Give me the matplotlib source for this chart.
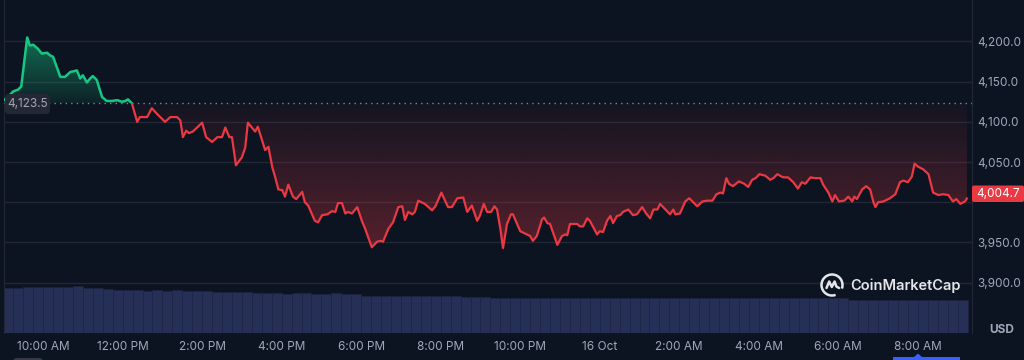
#!/usr/bin/env python3
"""24h price chart (dark CoinMarketCap style) with volume bars underneath.

Output: out.png, 1024x360 px.
"""
import numpy as np
import matplotlib
matplotlib.use("Agg")
import matplotlib.pyplot as plt
from matplotlib.patches import Rectangle, PathPatch, Arc, FancyBboxPatch, Polygon
from matplotlib.path import Path
from matplotlib.lines import Line2D
from matplotlib.transforms import Affine2D
from matplotlib.colors import to_rgb

plt.rcParams["font.family"] = ["Inter", "DejaVu Sans"]

# --- data: minutes after 09:00 (15 Oct) and price in USD ---
minutes = [
    1, 7, 15, 22, 27, 36, 40, 45, 52, 58,
    66, 70, 75, 86, 93, 101, 111, 116, 120, 126,
    131, 135, 141, 149, 156, 164, 172, 179, 184, 188,
    194, 202, 206, 217, 224, 233, 244, 252, 262, 267,
    271, 276, 280, 286, 300, 306, 315, 323, 330, 335,
    341, 345, 351, 360, 365, 369, 380, 384, 395, 400,
    406, 410, 415, 421, 425, 430, 437, 442, 451, 455,
    460, 470, 475, 481, 489, 496, 501, 505, 511, 516,
    520, 526, 534, 541, 546, 556, 564, 569, 573, 581,
    588, 596, 602, 606, 611, 617, 621, 626, 636, 647,
    652, 661, 671, 677, 685, 694, 700, 707, 715, 719,
    725, 730, 736, 741, 745, 750, 754, 760, 766, 769,
    780, 790, 795, 799, 805, 813, 816, 821, 825, 836,
    843, 848, 851, 855, 866, 870, 875, 881, 885, 896,
    900, 905, 911, 916, 920, 926, 931, 935, 943, 950,
    956, 964, 970, 976, 981, 987, 991, 999, 1006, 1011,
    1014, 1021, 1029, 1035, 1041, 1047, 1055, 1062, 1070, 1076,
    1082, 1086, 1091, 1095, 1101, 1110, 1118, 1124, 1130, 1135,
    1141, 1150, 1157, 1162, 1168, 1172, 1177, 1184, 1192, 1199,
    1205, 1210, 1218, 1225, 1233, 1237, 1245, 1251, 1255, 1261,
    1269, 1275, 1281, 1284, 1288, 1296, 1302, 1308, 1313, 1316,
    1320, 1328, 1338, 1346, 1353, 1358, 1365, 1371, 1375, 1381,
    1388, 1396, 1403, 1411, 1418, 1426, 1433, 1438, 1444, 1451,
    1454,
]
prices = [
    4127, 4131, 4138, 4140, 4144, 4205, 4195, 4196, 4191, 4185,
    4186, 4183, 4181, 4156, 4156, 4162, 4164, 4154, 4158, 4149,
    4154, 4157, 4152, 4131, 4126, 4126, 4127, 4125, 4126, 4128,
    4123, 4100, 4106, 4106, 4117, 4109, 4100, 4106, 4106, 4102,
    4081, 4089, 4086, 4088, 4099, 4081, 4075, 4081, 4081, 4093,
    4081, 4081, 4046, 4056, 4068, 4099, 4088, 4094, 4065, 4069,
    4043, 4032, 4016, 4015, 4007, 4022, 4007, 4004, 4013, 4000,
    3996, 3977, 3975, 3984, 3985, 3989, 3988, 3999, 3999, 3986,
    3988, 3986, 3994, 3977, 3967, 3944, 3951, 3952, 3951, 3967,
    3975, 3994, 3995, 3978, 3988, 3985, 3988, 4002, 3998, 3990,
    3995, 4012, 3994, 3994, 4005, 4006, 3988, 3996, 3977, 3983,
    3998, 3988, 3988, 3995, 3991, 3967, 3943, 3973, 3985, 3985,
    3964, 3960, 3958, 3952, 3958, 3979, 3981, 3974, 3973, 3947,
    3958, 3960, 3959, 3973, 3973, 3970, 3970, 3980, 3977, 3960,
    3964, 3963, 3977, 3983, 3974, 3983, 3984, 3988, 3991, 3984,
    3985, 3994, 3986, 3980, 3991, 3991, 3998, 3991, 3985, 3991,
    3985, 3986, 4001, 4005, 4000, 3995, 4001, 4002, 4002, 4010,
    4012, 4011, 4030, 4023, 4020, 4026, 4023, 4019, 4028, 4030,
    4035, 4033, 4028, 4030, 4035, 4033, 4031, 4031, 4025, 4017,
    4025, 4023, 4031, 4030, 4030, 4022, 4012, 4001, 4009, 4001,
    4002, 4007, 4001, 4007, 4004, 4016, 4020, 4016, 4000, 3994,
    4000, 4001, 4005, 4010, 4025, 4027, 4025, 4032, 4048, 4044,
    4041, 4035, 4012, 4009, 4010, 4009, 4001, 4004, 3998, 4001,
    4004.7,
]
open_price = 4123.5

# 15-minute volume bars, USD billions
volume = [
    45, 45, 46, 46, 46, 46, 46.5, 47, 45, 45,
    44, 43, 43, 43, 42.5, 43, 42.5, 43, 42.5, 42.5,
    42.5, 41.3, 41.5, 40.7, 40.7, 40.5, 39.7, 39.7, 39.5, 39.7,
    39.7, 39.5, 39.5, 39.7, 39.5, 39.2, 37.5, 37, 37, 37,
    37, 36.8, 37, 37, 36.8, 36.8, 36.5, 35.7, 35.7, 35.5,
    35.5, 35.2, 35.3, 35.2, 35, 35.2, 35.4, 35.2, 35.3, 35.2,
    35.1, 35.2, 35.4, 35.2, 35.2, 35.3, 35.1, 35.2, 35.2, 35.4,
    35.2, 35.1, 35.2, 35.3, 35.2, 35.1, 35.2, 35.2, 34.9, 35.0,
    35.1, 34.9, 34.7, 34.7, 34.6, 33.5, 33.2, 33.0, 33.0, 33.1,
    33.0, 33.0, 33.1, 33.0, 33.0, 32.8, 33.5,
]
vol_step = 15  # minutes per bar

tick_minutes = [60, 180, 300, 420, 540, 660, 780, 900, 1020, 1140, 1260, 1380]
tick_labels = ["10:00 AM", "12:00 PM", "2:00 PM", "4:00 PM", "6:00 PM", "8:00 PM",
               "10:00 PM", "16 Oct", "2:00 AM", "4:00 AM", "6:00 AM", "8:00 AM"]
price_ticks = [3900, 3950, 4000, 4050, 4100, 4150, 4200]

# --- style ---
BG = "#0d1421"
GRID = "#222735"
TEXT = "#a1a7bb"
GREEN = "#16c784"
RED = "#ea3943"
W, H = 1024, 360
XMIN, XMAX = 1.0, 1461.7
YMIN, YMAX = 3837.4, 4251.6


def gradient_fill(ax, t, p, base, above, color, y_lo, y_hi, a_lo, a_hi):
    where = p >= base if above else p <= base
    coll = ax.fill_between(t, p, base, where=where, interpolate=True,
                           facecolor="none", edgecolor="none")
    path = Path.make_compound_path(*coll.get_paths())
    clip = PathPatch(path, transform=ax.transData, facecolor="none", edgecolor="none")
    ax.add_patch(clip)
    img = np.zeros((256, 1, 4))
    img[..., :3] = to_rgb(color)
    img[:, 0, 3] = np.linspace(a_lo, a_hi, 256)
    im = ax.imshow(img, extent=[t[0], t[-1], y_lo, y_hi], origin="lower",
                   aspect="auto", zorder=1, interpolation="bilinear")
    im.set_clip_path(clip)


def main():
    t = np.array(minutes, dtype=float)
    p = np.array(prices, dtype=float)

    fig = plt.figure(figsize=(W / 100, H / 100), dpi=100, facecolor=BG)
    PX = Affine2D().scale(1 / W, 1 / H) + fig.transFigure   # pixels, origin bottom-left

    rect = [4 / W, 27 / H, 968 / W, 333 / H]

    # volume bars underneath
    axv = fig.add_axes(rect)
    starts = np.arange(len(volume)) * vol_step
    axv.bar(starts + vol_step / 2, volume, width=vol_step, color="#262f55",
            edgecolor="#1d2544", linewidth=0.5)
    axv.set_xlim(XMIN, XMAX)
    axv.set_ylim(0, 333)
    axv.axis("off")

    ax = fig.add_axes(rect)
    ax.set_facecolor("none")

    gradient_fill(ax, t, p, open_price, True, GREEN, open_price, p.max(), 0.08, 0.5)
    gradient_fill(ax, t, p, open_price, False, RED, p.min(), open_price, 0.33, 0.03)

    up, = ax.plot(t, p, color=GREEN, lw=1.8, zorder=4, solid_joinstyle="round")
    dn, = ax.plot(t, p, color=RED, lw=1.6, zorder=4, solid_joinstyle="round")
    up.set_clip_path(Rectangle((XMIN, open_price), XMAX - XMIN, YMAX - open_price,
                               transform=ax.transData))
    dn.set_clip_path(Rectangle((XMIN, YMIN), XMAX - XMIN, open_price - YMIN,
                               transform=ax.transData))

    ax.axhline(open_price, color="#9aa0ae", lw=1, ls=(0, (1, 3)), alpha=0.8, zorder=3)

    ax.set_xlim(XMIN, XMAX)
    ax.set_ylim(YMIN, YMAX)
    ax.set_xticks(tick_minutes)
    ax.set_xticklabels(tick_labels)
    ax.set_yticks(price_ticks)
    ax.set_yticklabels(["" if v == 4000 else f"{v:,.1f}" for v in price_ticks])
    ax.yaxis.tick_right()
    ax.yaxis.grid(True, color=GRID, lw=1)
    ax.set_axisbelow(True)
    ax.tick_params(axis="x", length=0, pad=6, labelcolor=TEXT, labelsize=8.5)
    ax.tick_params(axis="y", length=0, pad=3.5, labelcolor=TEXT, labelsize=8.5)
    for side in ("top", "bottom"):
        ax.spines[side].set_visible(False)
    for side in ("left", "right"):
        ax.spines[side].set_color(GRID)

    # open price tag on the left
    fig.add_artist(FancyBboxPatch((5, 246), 45, 20, boxstyle="round,pad=0,rounding_size=4",
                                  fc="#242834", ec="none", transform=PX))
    fig.text(27.5, 256, f"{open_price:,.1f}", transform=PX, ha="center", va="center",
             color=TEXT, fontsize=8.5)

    # last price tag on the right
    fig.add_artist(FancyBboxPatch((972, 158), 52, 16.5, boxstyle="round,pad=0,rounding_size=2",
                                  fc=RED, ec="none", transform=PX))
    fig.text(998, 166, f"{prices[-1]:,.1f}", transform=PX, ha="center", va="center",
             color="white", fontsize=8.5)

    fig.text(1002, 30, "USD", transform=PX, ha="center", va="center", color=TEXT,
             fontsize=8.5, fontweight="bold")

    # watermark
    logo = "#e4e6ea"
    fig.add_artist(Arc((832, 75), 21, 21, theta1=-20, theta2=290, lw=1.8,
                       color=logo, transform=PX))
    mx = np.array([-5.5, -2.8, -0.2, 2.6, 4.4, 7.0]) + 832
    my = np.array([-3.0, 3.5, -2.0, 3.5, -1.5, -3.0]) + 75
    fig.add_artist(Line2D(mx, my, lw=1.8, color=logo, transform=PX,
                          solid_joinstyle="round", solid_capstyle="round"))
    fig.text(850, 74, "CoinMarketCap", transform=PX, ha="left", va="center",
             color=logo, fontsize=10.5, fontweight="semibold")

    # bits of the bottom toolbar peeking in
    fig.add_artist(Rectangle((893, 0), 67, 3, fc="#3861fb", ec="none", transform=PX))
    fig.add_artist(Polygon([(914, 3), (922, 3), (918, 6.5)], fc="#3861fb", ec="none",
                           transform=PX))
    fig.add_artist(FancyBboxPatch((13, -6), 30, 8, boxstyle="round,pad=0,rounding_size=4",
                                  fc="#353a46", ec="none", transform=PX))

    fig.savefig("out.png", dpi=100, facecolor=BG)


if __name__ == "__main__":
    main()
